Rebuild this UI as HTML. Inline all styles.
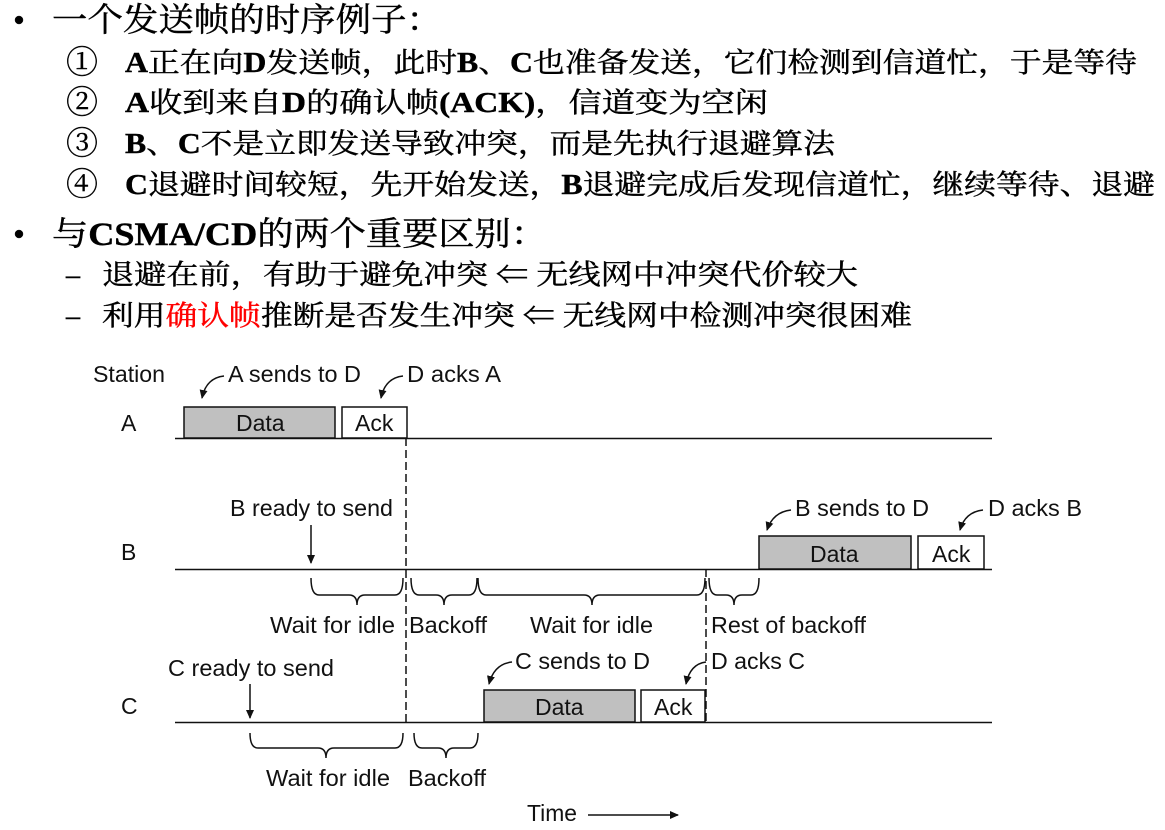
<!DOCTYPE html>
<html><head><meta charset="utf-8"><style>
html,body{margin:0;padding:0;background:#fff;}
svg{display:block;}
.cj{font-family:"Liberation Serif","Noto Serif CJK SC",serif;fill:#000;}
.d{font-family:"Liberation Sans",Arial,sans-serif;font-size:23px;fill:#111;}
</style></head><body>
<svg width="1165" height="830" viewBox="0 0 1165 830" xmlns="http://www.w3.org/2000/svg">
<defs>
<marker id="ah" markerWidth="10" markerHeight="10" refX="8" refY="5" orient="auto" markerUnits="userSpaceOnUse">
<path d="M0,1 L9,5 L0,9 z" fill="#111"/></marker>
</defs>
<g class="cj" stroke="#000" stroke-width="0.4">
<circle cx="19" cy="20" r="4" fill="#000"/>
<text x="52" y="31" font-size="33" textLength="390" lengthAdjust="spacingAndGlyphs">一个发送帧的时序例子：</text>
<g font-size="28">
<text x="66" y="73" font-size="32">①</text>
<text x="125" y="72" textLength="1012" lengthAdjust="spacingAndGlyphs"><tspan font-weight="bold">A</tspan>正在向<tspan font-weight="bold">D</tspan>发送帧，此时<tspan font-weight="bold">B</tspan>、<tspan font-weight="bold">C</tspan>也准备发送，它们检测到信道忙，于是等待</text>
<text x="66" y="113" font-size="32">②</text>
<text x="125" y="112" textLength="643" lengthAdjust="spacingAndGlyphs"><tspan font-weight="bold">A</tspan>收到来自<tspan font-weight="bold">D</tspan>的确认帧<tspan font-weight="bold">(ACK)</tspan>，信道变为空闲</text>
<text x="66" y="154" font-size="32">③</text>
<text x="125" y="153" textLength="710" lengthAdjust="spacingAndGlyphs"><tspan font-weight="bold">B</tspan>、<tspan font-weight="bold">C</tspan>不是立即发送导致冲突，而是先执行退避算法</text>
<text x="66" y="195" font-size="32">④</text>
<text x="125" y="194" textLength="1030" lengthAdjust="spacingAndGlyphs"><tspan font-weight="bold">C</tspan>退避时间较短，先开始发送，<tspan font-weight="bold">B</tspan>退避完成后发现信道忙，继续等待、退避</text>
</g>
<circle cx="19" cy="234" r="4" fill="#000"/>
<text x="52" y="245" font-size="33" textLength="495" lengthAdjust="spacingAndGlyphs">与<tspan font-weight="bold">CSMA/CD</tspan>的两个重要区别：</text>
<g font-size="28">
<text x="66" y="284">–</text>
<text x="102" y="284" textLength="756" lengthAdjust="spacingAndGlyphs">退避在前，有助于避免冲突 <tspan font-weight="bold">⇐</tspan> 无线网中冲突代价较大</text>
<text x="66" y="325">–</text>
<text x="102" y="325" textLength="810" lengthAdjust="spacingAndGlyphs">利用<tspan fill="#f00" stroke="#f00">确认帧</tspan>推断是否发生冲突 <tspan font-weight="bold">⇐</tspan> 无线网中检测冲突很困难</text>
</g>
</g>
<g stroke="#111" stroke-width="1.5" fill="none">
<line x1="175" y1="438.5" x2="992" y2="438.5"/>
<line x1="175" y1="569.5" x2="992" y2="569.5"/>
<line x1="175" y1="722.5" x2="992" y2="722.5"/>
<line x1="406" y1="438" x2="406" y2="722" stroke-dasharray="8,4"/>
<line x1="706" y1="569" x2="706" y2="722" stroke-dasharray="8,4"/>
<rect x="184" y="407" width="151" height="31" fill="#c0c0c0"/>
<rect x="342" y="407" width="65" height="31" fill="#fff"/>
<rect x="759" y="536" width="152" height="33" fill="#c0c0c0"/>
<rect x="918" y="536" width="66" height="33" fill="#fff"/>
<rect x="484" y="690" width="151" height="32" fill="#c0c0c0"/>
<rect x="641" y="690" width="64" height="32" fill="#fff"/>
<line x1="311" y1="525" x2="311" y2="563" marker-end="url(#ah)"/>
<line x1="250" y1="684" x2="250" y2="718" marker-end="url(#ah)"/>
<line x1="588" y1="815" x2="678" y2="815" marker-end="url(#ah)"/>
<path d="M224,376 Q206,378 202,398" marker-end="url(#ah)"/>
<path d="M403,376 Q385,378 381,398" marker-end="url(#ah)"/>
<path d="M791,510 Q773,512 767,530" marker-end="url(#ah)"/>
<path d="M983,510 Q965,512 960,530" marker-end="url(#ah)"/>
<path d="M512,662 Q494,664 489,684" marker-end="url(#ah)"/>
<path d="M706,662 Q690,664 686,684" marker-end="url(#ah)"/>
<path d="M311,578 Q311,595 319,595 L349,595 Q357,595 357,605 Q357,595 365,595 L395,595 Q403,595 403,578"/>
<path d="M411,578 Q411,595 419,595 L436,595 Q444,595 444,605 Q444,595 452,595 L469,595 Q477,595 477,578"/>
<path d="M478,578 Q478,595 486,595 L584,595 Q592,595 592,605 Q592,595 600,595 L697,595 Q705,595 705,578"/>
<path d="M709,578 Q709,595 717,595 L726,595 Q734,595 734,605 Q734,595 742,595 L751,595 Q759,595 759,578"/>
<path d="M250,733 Q250,748 258,748 L318,748 Q326,748 326,758 Q326,748 334,748 L395,748 Q403,748 403,733"/>
<path d="M414,733 Q414,748 422,748 L438,748 Q446,748 446,758 Q446,748 454,748 L470,748 Q478,748 478,733"/>
</g>
<g class="d">
<text x="93" y="382" textLength="72" lengthAdjust="spacingAndGlyphs">Station</text>
<text x="121" y="431">A</text>
<text x="121" y="560">B</text>
<text x="121" y="714">C</text>
<text x="228" y="382" textLength="133" lengthAdjust="spacingAndGlyphs">A sends to D</text>
<text x="407" y="382" textLength="94" lengthAdjust="spacingAndGlyphs">D acks A</text>
<text x="236" y="431">Data</text>
<text x="355" y="431">Ack</text>
<text x="230" y="516" textLength="163" lengthAdjust="spacingAndGlyphs">B ready to send</text>
<text x="795" y="516" textLength="134" lengthAdjust="spacingAndGlyphs">B sends to D</text>
<text x="988" y="516" textLength="94" lengthAdjust="spacingAndGlyphs">D acks B</text>
<text x="810" y="562">Data</text>
<text x="932" y="562">Ack</text>
<text x="270" y="633" textLength="125" lengthAdjust="spacingAndGlyphs">Wait for idle</text>
<text x="409" y="633" textLength="78" lengthAdjust="spacingAndGlyphs">Backoff</text>
<text x="530" y="633" textLength="123" lengthAdjust="spacingAndGlyphs">Wait for idle</text>
<text x="711" y="633" textLength="155" lengthAdjust="spacingAndGlyphs">Rest of backoff</text>
<text x="168" y="676" textLength="166" lengthAdjust="spacingAndGlyphs">C ready to send</text>
<text x="515" y="669" textLength="135" lengthAdjust="spacingAndGlyphs">C sends to D</text>
<text x="711" y="669" textLength="94" lengthAdjust="spacingAndGlyphs">D acks C</text>
<text x="535" y="715">Data</text>
<text x="654" y="715">Ack</text>
<text x="266" y="786" textLength="124" lengthAdjust="spacingAndGlyphs">Wait for idle</text>
<text x="408" y="786" textLength="78" lengthAdjust="spacingAndGlyphs">Backoff</text>
<text x="527" y="821" textLength="50" lengthAdjust="spacingAndGlyphs">Time</text>
</g>
</svg>
</body></html>
